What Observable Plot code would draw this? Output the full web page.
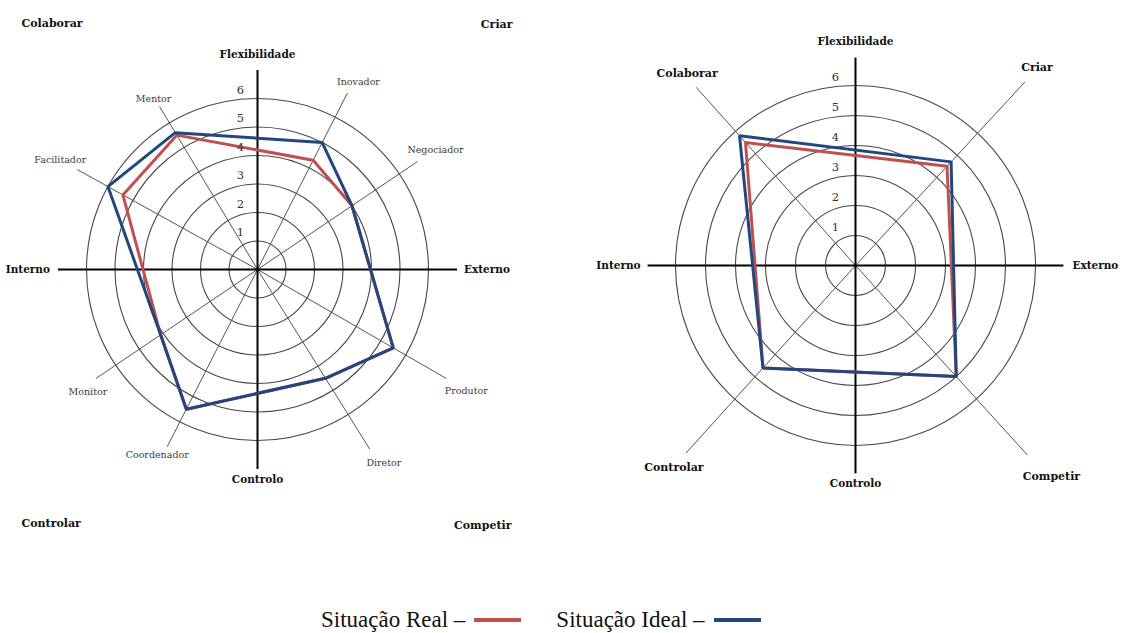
<!DOCTYPE html>
<html><head><meta charset="utf-8">
<script src="https://cdn.jsdelivr.net/npm/d3@7"></script>
<script src="https://cdn.jsdelivr.net/npm/@observablehq/plot@0.6"></script>
<style>
body{margin:0;background:#fff;}
#wrap{position:relative;width:1125px;height:633px;overflow:hidden;background:#fff;}
#left{position:absolute;left:0;top:0;}
#right{position:absolute;left:580px;top:0;}
#legend{position:absolute;left:321px;top:608px;height:24px;line-height:24px;font-family:"Liberation Serif","Times New Roman",serif;font-size:23px;color:#111;white-space:nowrap;display:flex;align-items:center;}
#legend .sw{display:inline-block;width:47px;height:4px;margin-left:9px;}
#legend .gap{display:inline-block;width:35px;}
</style></head><body>
<div id="wrap"><div id="left"></div><div id="right"></div><div id="legend"></div></div>
<script>
// ---------------- DATA ----------------
const ringTicks = [1, 2, 3, 4, 5, 6];
const axisNames = ["Flexibilidade", "Externo", "Controlo", "Interno"];
const leftRoles = ["Inovador", "Negociador", "Produtor", "Diretor", "Coordenador", "Monitor", "Facilitador", "Mentor"];
const leftReal  = [4.3, 4.0, 5.5, 4.5, 5.5, 4.1, 5.4, 5.5];
const leftIdeal = [5.0, 4.0, 5.5, 4.5, 5.5, 4.1, 6.0, 5.6];
const quadrants  = ["Criar", "Competir", "Controlar", "Colaborar"];
const rightReal  = [4.5, 5.0, 4.6, 5.5];
const rightIdeal = [4.7, 5.0, 4.6, 5.8];
const seriesNames = ["Situação Real", "Situação Ideal"];

// ---------------- STYLE / LAYOUT ----------------
const COLORS = {"Situação Real": "#c0504d", "Situação Ideal": "#22477f"};
const SERIF = "'DejaVu Serif', serif";
const axisAngles = [0, 90, 180, 270];
const axisAnchor = ["middle", "start", "middle", "end"];

// per category: [angle deg, spoke length (units), label dx px, label dy px]
const leftSpokes = {
  Inovador: [27, 6.95, 11, -11], Negociador: [56, 6.77, 18, -12], Produtor: [120, 7.65, 20, 12],
  Diretor: [148, 7.44, 14, 14], Coordenador: [207, 6.98, -10, 8], Monitor: [236, 6.84, -8, 13],
  Facilitador: [299, 7.23, -17, -10], Mentor: [329, 6.67, -6, -8]
};
const rightSpokes = {
  Criar: [42.7, 8.33, 12, -14], Competir: [137.8, 8.53, 24, 21],
  Controlar: [222.1, 8.43, -12, 14], Colaborar: [318.2, 7.97, -9, -14]
};
const cornerLayout = {
  Colaborar: {frameAnchor: "top-left", textAnchor: "start", dx: 21, dy: 19},
  Criar: {frameAnchor: "top-right", textAnchor: "end", dx: -28, dy: 20},
  Controlar: {frameAnchor: "bottom-left", textAnchor: "start", dx: 21, dy: -19},
  Competir: {frameAnchor: "bottom-right", textAnchor: "end", dx: -29, dy: -17}
};

const rad = a => a * Math.PI / 180;
const px = (r, a) => r * Math.sin(rad(a));
const py = (r, a) => r * Math.cos(rad(a));

function radar(o) {
  const {width, height, cx, cy, unit, cats, spokes, real, ideal} = o;
  const rows = (vals, s) => cats.map((c, i) => ({cat: c, value: vals[i], series: s}));
  const poly = (vals, s) => Plot.line(rows(vals, s), {
    x: d => px(d.value, spokes[d.cat][0]), y: d => py(d.value, spokes[d.cat][0]),
    curve: "linear-closed", stroke: COLORS[s], strokeWidth: 3, strokeLinejoin: "miter"
  });
  const axisLabelMarks = axisNames.map((name, i) => Plot.text([name], {
    x: () => px(o.axisLen, axisAngles[i]) + o.axisLabelOff[i][0] / unit,
    y: () => py(o.axisLen, axisAngles[i]) - o.axisLabelOff[i][1] / unit,
    text: d => d, textAnchor: axisAnchor[i], fontFamily: SERIF, fontWeight: "bold",
    fontSize: 10.5, fill: "#111"
  }));
  return Plot.plot({
    width, height, margin: 0,
    x: {axis: null, domain: [-cx / unit, (width - cx) / unit], range: [0, width]},
    y: {axis: null, domain: [(cy - height) / unit, cy / unit], range: [height, 0]},
    r: {type: "linear", domain: [0, 1], range: [0, unit]},
    style: {background: "transparent", overflow: "visible"},
    marks: [
      Plot.dot(ringTicks, {x: () => 0, y: () => 0, r: d => d, fill: "none", stroke: "#484848", strokeWidth: 1.1}),
      Plot.link(cats, {
        x1: () => 0, y1: () => 0,
        x2: c => px(spokes[c][1], spokes[c][0]), y2: c => py(spokes[c][1], spokes[c][0]),
        stroke: "#555", strokeWidth: 1
      }),
      Plot.link(axisNames, {
        x1: () => 0, y1: () => 0,
        x2: (d, i) => px(o.axisLen, axisAngles[i]), y2: (d, i) => py(o.axisLen, axisAngles[i]),
        stroke: "#000", strokeWidth: 2
      }),
      poly(real, seriesNames[0]),
      poly(ideal, seriesNames[1]),
      Plot.text(ringTicks, {
        x: () => o.tickDx / unit, y: d => d + o.tickDy / unit, text: d => String(d),
        lineAnchor: "bottom", fontFamily: SERIF, fontSize: 11.5, fill: "#333"
      }),
      ...axisLabelMarks,
      Plot.text(cats, {
        x: c => px(spokes[c][1], spokes[c][0]) + spokes[c][2] / unit,
        y: c => py(spokes[c][1], spokes[c][0]) - spokes[c][3] / unit,
        text: c => c, fontFamily: SERIF, fontSize: o.catSize, fontWeight: o.catWeight, fill: o.catFill
      }),
      ...(o.extra || [])
    ]
  });
}

const cornerMarks = quadrants.map(q => Plot.text([q], {
  ...cornerLayout[q], text: d => d, fontFamily: SERIF, fontWeight: "bold", fontSize: 11, fill: "#111"
}));

document.getElementById("left").append(radar({
  width: 540, height: 545, cx: 257, cy: 269, unit: 28.5,
  cats: leftRoles, spokes: leftSpokes, real: leftReal, ideal: leftIdeal,
  axisLen: 7.0, axisLabelOff: [[0, -15], [7, 0], [0, 11], [-8, 0]],
  tickDx: -17, tickDy: 5, catSize: 9.5, catWeight: "normal", catFill: "#3a3a3a",
  extra: cornerMarks
}));

document.getElementById("right").append(radar({
  width: 545, height: 510, cx: 275, cy: 265, unit: 30,
  cats: quadrants, spokes: rightSpokes, real: rightReal, ideal: rightIdeal,
  axisLen: 6.93, axisLabelOff: [[0, -16], [9, 0], [0, 10], [-7, 0]],
  tickDx: -20, tickDy: 5, catSize: 11, catWeight: "bold", catFill: "#111"
}));

// legend
const lg = document.getElementById("legend");
seriesNames.forEach((s, i) => {
  if (i > 0) { const g = document.createElement("span"); g.className = "gap"; lg.append(g); }
  const t = document.createElement("span"); t.textContent = s + " \u2013"; lg.append(t);
  const sw = document.createElement("span"); sw.className = "sw"; sw.style.background = COLORS[s]; lg.append(sw);
});
</script>
</body></html>
